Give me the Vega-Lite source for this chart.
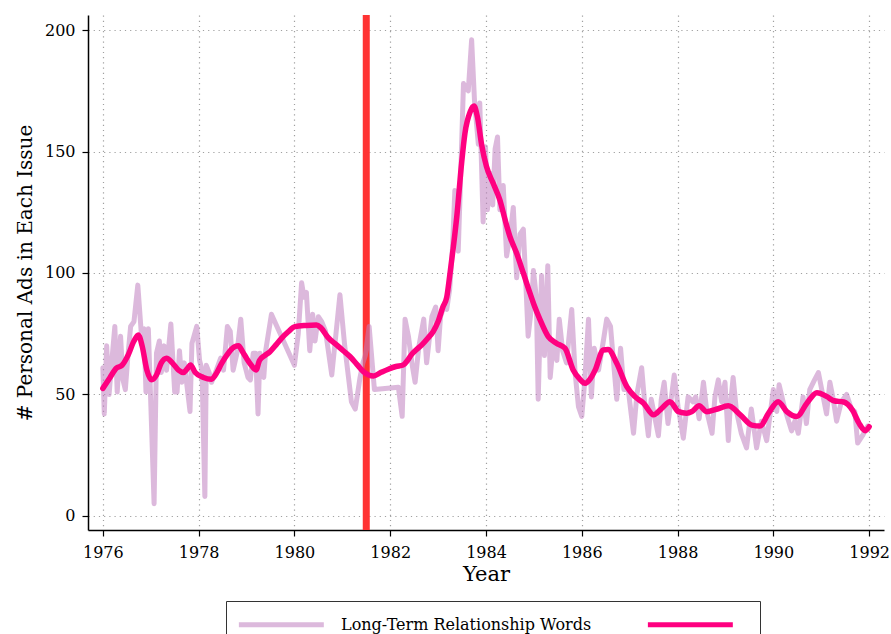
{
  "$schema": "https://vega.github.io/schema/vega-lite/v6.json",
  "width": 796,
  "height": 515,
  "autosize": {"type": "none"},
  "padding": {"left": 88, "top": 15, "right": 7, "bottom": 104},
  "background": "white",
  "config": {
    "view": {"stroke": null},
    "font": "DejaVu Serif",
    "axis": {
      "domainColor": "black",
      "domainWidth": 1.5,
      "tickColor": "black",
      "tickWidth": 1.2,
      "tickSize": 6,
      "labelFont": "DejaVu Serif",
      "labelFontSize": 16,
      "labelColor": "black",
      "titleFont": "DejaVu Serif",
      "titleFontWeight": "normal",
      "titleColor": "black",
      "gridColor": "#a0a0a0",
      "gridDash": [1.2, 4],
      "gridWidth": 1.2
    }
  },
  "datasets": {
    "event": [{"year": 1981.5}],
    "raw": [
      {"year": 1976.00, "ads": 61}, {"year": 1976.03, "ads": 42}, {"year": 1976.08, "ads": 70}, {"year": 1976.13, "ads": 50},
      {"year": 1976.18, "ads": 62}, {"year": 1976.25, "ads": 78}, {"year": 1976.30, "ads": 51}, {"year": 1976.37, "ads": 74},
      {"year": 1976.42, "ads": 56}, {"year": 1976.47, "ads": 52}, {"year": 1976.52, "ads": 65}, {"year": 1976.58, "ads": 78},
      {"year": 1976.65, "ads": 80}, {"year": 1976.73, "ads": 95}, {"year": 1976.80, "ads": 76}, {"year": 1976.86, "ads": 77},
      {"year": 1976.90, "ads": 51}, {"year": 1976.95, "ads": 77}, {"year": 1977.07, "ads": 5}, {"year": 1977.12, "ads": 67},
      {"year": 1977.18, "ads": 72}, {"year": 1977.22, "ads": 59}, {"year": 1977.28, "ads": 70}, {"year": 1977.33, "ads": 60},
      {"year": 1977.42, "ads": 79}, {"year": 1977.50, "ads": 51}, {"year": 1977.55, "ads": 51}, {"year": 1977.60, "ads": 68},
      {"year": 1977.65, "ads": 55}, {"year": 1977.70, "ads": 63}, {"year": 1977.82, "ads": 43}, {"year": 1977.86, "ads": 71},
      {"year": 1977.96, "ads": 78}, {"year": 1978.02, "ads": 64}, {"year": 1978.07, "ads": 60}, {"year": 1978.13, "ads": 8},
      {"year": 1978.16, "ads": 62}, {"year": 1978.22, "ads": 59}, {"year": 1978.27, "ads": 55}, {"year": 1978.37, "ads": 60},
      {"year": 1978.46, "ads": 65}, {"year": 1978.52, "ads": 60}, {"year": 1978.60, "ads": 78}, {"year": 1978.66, "ads": 76},
      {"year": 1978.72, "ads": 60}, {"year": 1978.80, "ads": 67}, {"year": 1978.88, "ads": 81}, {"year": 1978.95, "ads": 63},
      {"year": 1979.03, "ads": 57}, {"year": 1979.08, "ads": 56}, {"year": 1979.14, "ads": 67}, {"year": 1979.19, "ads": 67},
      {"year": 1979.24, "ads": 42}, {"year": 1979.28, "ads": 67}, {"year": 1979.36, "ads": 57}, {"year": 1979.40, "ads": 68},
      {"year": 1979.52, "ads": 83}, {"year": 1980.00, "ads": 62}, {"year": 1980.08, "ads": 75}, {"year": 1980.15, "ads": 96},
      {"year": 1980.20, "ads": 90}, {"year": 1980.25, "ads": 92}, {"year": 1980.32, "ads": 68}, {"year": 1980.38, "ads": 83},
      {"year": 1980.43, "ads": 72}, {"year": 1980.50, "ads": 82}, {"year": 1980.57, "ads": 80}, {"year": 1980.65, "ads": 76},
      {"year": 1980.78, "ads": 58}, {"year": 1980.95, "ads": 91}, {"year": 1981.05, "ads": 70}, {"year": 1981.19, "ads": 47},
      {"year": 1981.27, "ads": 44}, {"year": 1981.37, "ads": 57}, {"year": 1981.43, "ads": 63}, {"year": 1981.48, "ads": 66},
      {"year": 1981.56, "ads": 78}, {"year": 1981.67, "ads": 52}, {"year": 1982.17, "ads": 53}, {"year": 1982.25, "ads": 41},
      {"year": 1982.31, "ads": 81}, {"year": 1982.38, "ads": 74}, {"year": 1982.46, "ads": 62}, {"year": 1982.52, "ads": 55},
      {"year": 1982.60, "ads": 70}, {"year": 1982.70, "ads": 81}, {"year": 1982.76, "ads": 63}, {"year": 1982.87, "ads": 82},
      {"year": 1982.95, "ads": 86}, {"year": 1983.00, "ads": 68}, {"year": 1983.05, "ads": 82}, {"year": 1983.12, "ads": 86},
      {"year": 1983.18, "ads": 85}, {"year": 1983.24, "ads": 93}, {"year": 1983.30, "ads": 110}, {"year": 1983.35, "ads": 134},
      {"year": 1983.42, "ads": 109}, {"year": 1983.46, "ads": 133}, {"year": 1983.53, "ads": 178}, {"year": 1983.58, "ads": 176},
      {"year": 1983.63, "ads": 175}, {"year": 1983.70, "ads": 196}, {"year": 1983.76, "ads": 171}, {"year": 1983.84, "ads": 153},
      {"year": 1983.87, "ads": 170}, {"year": 1983.94, "ads": 121}, {"year": 1983.99, "ads": 152}, {"year": 1984.03, "ads": 126},
      {"year": 1984.10, "ads": 141}, {"year": 1984.14, "ads": 128}, {"year": 1984.19, "ads": 151}, {"year": 1984.24, "ads": 156},
      {"year": 1984.29, "ads": 126}, {"year": 1984.36, "ads": 136}, {"year": 1984.43, "ads": 107}, {"year": 1984.50, "ads": 115},
      {"year": 1984.57, "ads": 127}, {"year": 1984.64, "ads": 98}, {"year": 1984.71, "ads": 116}, {"year": 1984.78, "ads": 118},
      {"year": 1984.84, "ads": 92}, {"year": 1984.88, "ads": 74}, {"year": 1984.95, "ads": 86}, {"year": 1984.99, "ads": 101},
      {"year": 1985.05, "ads": 90}, {"year": 1985.09, "ads": 48}, {"year": 1985.16, "ads": 99}, {"year": 1985.22, "ads": 66},
      {"year": 1985.29, "ads": 103}, {"year": 1985.34, "ads": 57}, {"year": 1985.40, "ads": 70}, {"year": 1985.48, "ads": 64},
      {"year": 1985.53, "ads": 81}, {"year": 1985.60, "ads": 68}, {"year": 1985.68, "ads": 63}, {"year": 1985.79, "ads": 85},
      {"year": 1985.86, "ads": 59}, {"year": 1985.93, "ads": 45}, {"year": 1986.00, "ads": 41}, {"year": 1986.06, "ads": 55},
      {"year": 1986.14, "ads": 81}, {"year": 1986.20, "ads": 49}, {"year": 1986.26, "ads": 69}, {"year": 1986.35, "ads": 60},
      {"year": 1986.45, "ads": 72}, {"year": 1986.52, "ads": 81}, {"year": 1986.60, "ads": 78}, {"year": 1986.66, "ads": 64},
      {"year": 1986.73, "ads": 48}, {"year": 1986.81, "ads": 69}, {"year": 1986.88, "ads": 52}, {"year": 1986.97, "ads": 52},
      {"year": 1987.08, "ads": 34}, {"year": 1987.15, "ads": 50}, {"year": 1987.25, "ads": 61}, {"year": 1987.32, "ads": 45},
      {"year": 1987.39, "ads": 33}, {"year": 1987.45, "ads": 48}, {"year": 1987.52, "ads": 41}, {"year": 1987.60, "ads": 33},
      {"year": 1987.66, "ads": 48}, {"year": 1987.72, "ads": 55}, {"year": 1987.80, "ads": 38}, {"year": 1987.93, "ads": 58},
      {"year": 1988.01, "ads": 45}, {"year": 1988.12, "ads": 32}, {"year": 1988.22, "ads": 49}, {"year": 1988.32, "ads": 47},
      {"year": 1988.38, "ads": 49}, {"year": 1988.45, "ads": 40}, {"year": 1988.54, "ads": 55}, {"year": 1988.61, "ads": 43},
      {"year": 1988.72, "ads": 34}, {"year": 1988.78, "ads": 49}, {"year": 1988.85, "ads": 56}, {"year": 1988.92, "ads": 47},
      {"year": 1988.99, "ads": 55}, {"year": 1989.06, "ads": 31}, {"year": 1989.10, "ads": 45}, {"year": 1989.16, "ads": 57},
      {"year": 1989.23, "ads": 43}, {"year": 1989.33, "ads": 34}, {"year": 1989.44, "ads": 28}, {"year": 1989.54, "ads": 44},
      {"year": 1989.65, "ads": 28}, {"year": 1989.75, "ads": 39}, {"year": 1989.86, "ads": 31}, {"year": 1990.00, "ads": 52},
      {"year": 1990.07, "ads": 43}, {"year": 1990.12, "ads": 54}, {"year": 1990.24, "ads": 44}, {"year": 1990.38, "ads": 35},
      {"year": 1990.45, "ads": 39}, {"year": 1990.52, "ads": 34}, {"year": 1990.62, "ads": 49}, {"year": 1990.69, "ads": 38},
      {"year": 1990.76, "ads": 52}, {"year": 1990.86, "ads": 56}, {"year": 1990.94, "ads": 59}, {"year": 1991.04, "ads": 49},
      {"year": 1991.11, "ads": 42}, {"year": 1991.18, "ads": 55}, {"year": 1991.25, "ads": 48}, {"year": 1991.32, "ads": 39},
      {"year": 1991.42, "ads": 47}, {"year": 1991.53, "ads": 50}, {"year": 1991.63, "ads": 44}, {"year": 1991.70, "ads": 43},
      {"year": 1991.76, "ads": 30}, {"year": 1991.86, "ads": 33}, {"year": 1991.97, "ads": 37}
    ],
    "smooth": [
      {"year": 1976.00, "ads": 52.5}, {"year": 1976.15, "ads": 57}, {"year": 1976.28, "ads": 60.8}, {"year": 1976.40, "ads": 62},
      {"year": 1976.53, "ads": 66.3}, {"year": 1976.65, "ads": 72}, {"year": 1976.74, "ads": 74.5}, {"year": 1976.82, "ads": 70},
      {"year": 1976.92, "ads": 60}, {"year": 1977.02, "ads": 56}, {"year": 1977.12, "ads": 58}, {"year": 1977.22, "ads": 63},
      {"year": 1977.33, "ads": 64.9}, {"year": 1977.45, "ads": 63}, {"year": 1977.58, "ads": 60}, {"year": 1977.68, "ads": 59},
      {"year": 1977.76, "ads": 60.5}, {"year": 1977.83, "ads": 62.1}, {"year": 1977.93, "ads": 59}, {"year": 1978.10, "ads": 57},
      {"year": 1978.27, "ads": 56.3}, {"year": 1978.38, "ads": 59}, {"year": 1978.48, "ads": 62.8}, {"year": 1978.60, "ads": 66.5},
      {"year": 1978.69, "ads": 68.7}, {"year": 1978.83, "ads": 70}, {"year": 1978.92, "ads": 67.5}, {"year": 1979.00, "ads": 64.9},
      {"year": 1979.10, "ads": 62}, {"year": 1979.20, "ads": 60.1}, {"year": 1979.27, "ads": 64}, {"year": 1979.38, "ads": 66},
      {"year": 1979.49, "ads": 67.6}, {"year": 1979.62, "ads": 70.5}, {"year": 1979.73, "ads": 73.1}, {"year": 1979.87, "ads": 75.8},
      {"year": 1980.01, "ads": 77.9}, {"year": 1980.25, "ads": 78.4}, {"year": 1980.46, "ads": 78.6}, {"year": 1980.55, "ads": 77.5},
      {"year": 1980.70, "ads": 73.5}, {"year": 1980.88, "ads": 70.4}, {"year": 1981.02, "ads": 68}, {"year": 1981.16, "ads": 65.6},
      {"year": 1981.30, "ads": 62.5}, {"year": 1981.44, "ads": 59.4}, {"year": 1981.55, "ads": 58}, {"year": 1981.65, "ads": 57.6},
      {"year": 1981.80, "ads": 59}, {"year": 1981.96, "ads": 60.4}, {"year": 1982.12, "ads": 61.5}, {"year": 1982.27, "ads": 62.1},
      {"year": 1982.36, "ads": 64}, {"year": 1982.44, "ads": 66.3}, {"year": 1982.55, "ads": 68.5}, {"year": 1982.66, "ads": 70.4},
      {"year": 1982.78, "ads": 73}, {"year": 1982.90, "ads": 76}, {"year": 1983.00, "ads": 80}, {"year": 1983.10, "ads": 86},
      {"year": 1983.18, "ads": 90}, {"year": 1983.24, "ads": 98.5}, {"year": 1983.32, "ads": 111}, {"year": 1983.39, "ads": 123.2},
      {"year": 1983.49, "ads": 145.1}, {"year": 1983.56, "ads": 157.5}, {"year": 1983.67, "ads": 166.4}, {"year": 1983.75, "ads": 168.7},
      {"year": 1983.82, "ads": 164.3}, {"year": 1983.91, "ads": 152.7}, {"year": 1984.01, "ads": 143.8}, {"year": 1984.15, "ads": 136.9},
      {"year": 1984.29, "ads": 130}, {"year": 1984.40, "ads": 121.8}, {"year": 1984.50, "ads": 115}, {"year": 1984.64, "ads": 108.1},
      {"year": 1984.78, "ads": 99.9}, {"year": 1984.92, "ads": 91.6}, {"year": 1985.02, "ads": 86}, {"year": 1985.13, "ads": 80.7},
      {"year": 1985.30, "ads": 73.8}, {"year": 1985.47, "ads": 71.1}, {"year": 1985.65, "ads": 69}, {"year": 1985.82, "ads": 60.1},
      {"year": 1985.95, "ads": 56.5}, {"year": 1986.07, "ads": 54.6}, {"year": 1986.18, "ads": 56.5}, {"year": 1986.28, "ads": 60.1},
      {"year": 1986.45, "ads": 68.3}, {"year": 1986.55, "ads": 68.5}, {"year": 1986.73, "ads": 62.8}, {"year": 1986.94, "ads": 53.2},
      {"year": 1987.11, "ads": 49.1}, {"year": 1987.29, "ads": 46.4}, {"year": 1987.50, "ads": 41.6}, {"year": 1987.67, "ads": 44.3},
      {"year": 1987.84, "ads": 47}, {"year": 1988.02, "ads": 42.9}, {"year": 1988.19, "ads": 42.3}, {"year": 1988.30, "ads": 43},
      {"year": 1988.45, "ads": 45.3}, {"year": 1988.61, "ads": 42.9}, {"year": 1988.81, "ads": 43.9}, {"year": 1989.06, "ads": 45.3},
      {"year": 1989.31, "ads": 41.6}, {"year": 1989.55, "ads": 37.4}, {"year": 1989.72, "ads": 37}, {"year": 1989.90, "ads": 42.3},
      {"year": 1990.10, "ads": 47}, {"year": 1990.28, "ads": 42.9}, {"year": 1990.49, "ads": 40.9}, {"year": 1990.70, "ads": 46.4},
      {"year": 1990.91, "ads": 50.7}, {"year": 1991.12, "ads": 49.1}, {"year": 1991.26, "ads": 47.4}, {"year": 1991.47, "ads": 46.9},
      {"year": 1991.65, "ads": 43.6}, {"year": 1991.79, "ads": 38.1}, {"year": 1991.92, "ads": 35.1}, {"year": 1992.00, "ads": 36.7}
    ]
  },
  "layer": [
    {
      "data": {"name": "event"},
      "mark": {"type": "rule", "color": "#ff3333", "strokeWidth": 7},
      "encoding": {
        "x": {"field": "year", "type": "quantitative", "scale": {"domain": [1975.69, 1992.31], "nice": false, "zero": false}}
      }
    },
    {
      "data": {"name": "raw"},
      "mark": {"type": "line", "strokeWidth": 5, "strokeOpacity": 0.55, "strokeJoin": "round", "strokeCap": "round"},
      "encoding": {
        "x": {
          "field": "year", "type": "quantitative",
          "scale": {"domain": [1975.69, 1992.31], "nice": false, "zero": false},
          "axis": {
            "title": "Year", "titleFontSize": 21, "titlePadding": 3,
            "values": [1976, 1978, 1980, 1982, 1984, 1986, 1988, 1990, 1992],
            "format": "d", "labelPadding": 8, "grid": true
          }
        },
        "y": {
          "field": "ads", "type": "quantitative",
          "scale": {"domain": [-5.8, 206.2], "nice": false, "zero": false},
          "axis": {
            "title": "# Personal Ads in Each Issue", "titleFontSize": 20, "titlePadding": 9,
            "values": [0, 50, 100, 150, 200], "labelPadding": 7, "grid": true
          }
        },
        "color": {
          "datum": "Long-Term Relationship Words",
          "type": "nominal",
          "scale": {"domain": ["Long-Term Relationship Words", " "], "range": ["#c080c0", "#ff0080"]},
          "legend": {
            "title": null,
            "orient": "none",
            "legendX": 138,
            "legendY": 586,
            "direction": "horizontal",
            "columnPadding": 45,
            "symbolType": "M-1,0H7",
            "symbolSize": 451,
            "symbolStrokeWidth": 5,
            "labelFont": "DejaVu Serif",
            "labelFontSize": 16,
            "labelLimit": 500,
            "labelColor": "black",
            "labelOffset": 78,
            "padding": 10,
            "strokeColor": "#333333",
            "fillColor": "white",
            "rowPadding": 0,
            "encode": {
              "symbols": {
                "update": {
                  "strokeOpacity": {"signal": "datum.index === 0 ? 0.55 : 1"}
                }
              }
            }
          }
        }
      }
    },
    {
      "data": {"name": "smooth"},
      "mark": {"type": "line", "strokeWidth": 5.5, "interpolate": "monotone", "strokeJoin": "round", "strokeCap": "round"},
      "encoding": {
        "x": {"field": "year", "type": "quantitative"},
        "y": {"field": "ads", "type": "quantitative"},
        "color": {"datum": " ", "type": "nominal"}
      }
    }
  ]
}
